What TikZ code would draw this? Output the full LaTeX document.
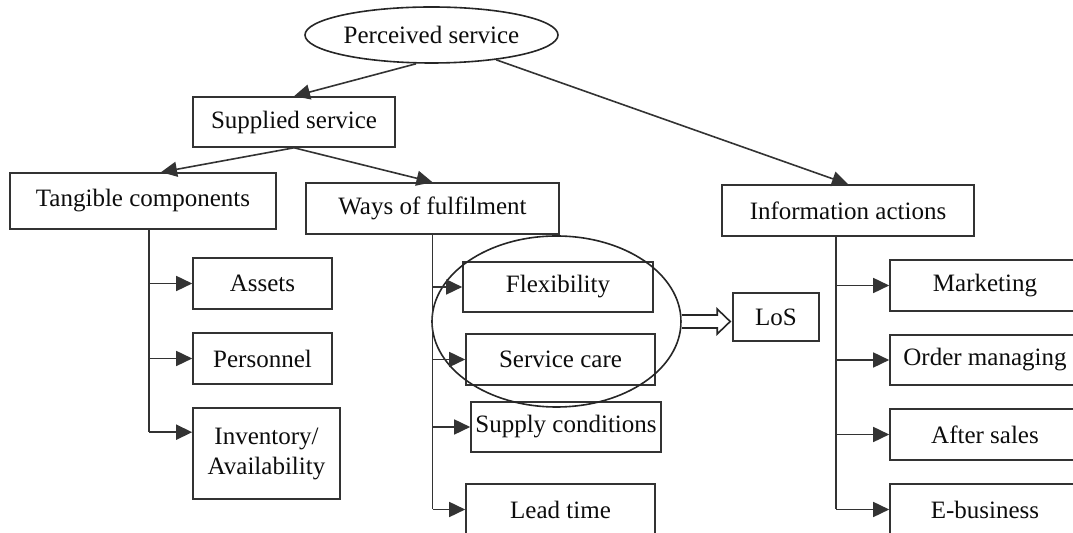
\documentclass[tikz,border=0pt]{standalone}
\usepackage{fontspec}
\setmainfont{Liberation Serif}
\usetikzlibrary{shapes.geometric,arrows.meta,calc}
\begin{document}
\begin{tikzpicture}[x=0.5pt,y=-0.5pt,
  font=\fontsize{12.5}{15}\selectfont,
  line width=0.8pt,
  every node/.style={text=black!95},
  box/.style={draw=black!80,rectangle,inner sep=0pt,align=center},
  oval/.style={draw=black!85,ellipse,inner sep=0pt},
  conn/.style={draw=black!80},
  arr/.style={draw=black!80,-{Triangle[length=8pt,width=7.5pt]}}
]
\useasboundingbox (0,0) rectangle (1073,533);
\clip (0,0) rectangle (1073,533);
\fill[white] (0,0) rectangle (1073,533);

% top level
\node[oval,minimum width=126.5pt,minimum height=28pt] (ps) at (431.5,35) {Perceived service};
\node[box,minimum width=101pt,minimum height=25pt] (ss) at (294,122) {Supplied service};
\node[box,minimum width=133pt,minimum height=28pt] (tc) at (143,201) {Tangible components};
\node[box,minimum width=126.5pt,minimum height=25.5pt] (wf) at (432.5,208.5) {Ways of fulfilment};
\node[box,minimum width=126pt,minimum height=25.5pt] (ia) at (848,210.5) {Information actions};

% tangible children
\node[box,minimum width=69.5pt,minimum height=25.5pt] (as) at (262.5,283.5) {Assets};
\node[box,minimum width=69.5pt,minimum height=25.5pt] (pe) at (262.5,358.5) {Personnel};
\node[box,minimum width=73.5pt,minimum height=45.5pt] (inv) at (266.5,453.5) {Inventory/\\Availability};

% fulfilment children
\node[box,minimum width=95pt,minimum height=25pt] (fl) at (558,287) {Flexibility};
\node[box,minimum width=94.5pt,minimum height=25.5pt] (sc) at (560.5,359.5) {Service care};
\node[box,minimum width=95pt,minimum height=25pt] (su) at (566,427) {Supply conditions};
\node[box,minimum width=94.5pt,minimum height=25.5pt] (lt) at (560.5,509.5) {Lead time};

% information children
\node[box,minimum width=95pt,minimum height=25.5pt] (mk) at (985,285.5) {Marketing};
\node[box,minimum width=95pt,minimum height=25pt] (om) at (985,360) {Order managing};
\node[box,minimum width=95pt,minimum height=25.5pt] (af) at (985,434.5) {After sales};
\node[box,minimum width=95pt,minimum height=25.5pt] (eb) at (985,509.5) {E-business};

% grouping ellipse and LoS
\node[oval,minimum width=124.5pt,minimum height=85.5pt] (grp) at (556.5,321.5) {};
\node[box,minimum width=43pt,minimum height=24pt] (los) at (776,317) {LoS};

% top connectors
\draw[arr] ([xshift=-7.75pt]ps.south) -- (ss.north);
\draw[arr] (ps.-21) -- (ia.north);
\draw[arr] (ss.south) -- ([xshift=9pt]tc.north);
\draw[arr] (ss.south) -- (wf.north);

% tangible trunk
\coordinate (tcT) at ([xshift=3pt]tc.south);
\draw[conn] (tcT) -- (tcT |- inv.164);
\draw[arr] (tcT |- as.west) -- (as.west);
\draw[arr] (tcT |- pe.west) -- (pe.west);
\draw[arr] (tcT |- inv.164) -- (inv.164);

% fulfilment trunk
\coordinate (wfT) at (wf.south);
\draw[conn] (wfT) -- (wfT |- lt.west);
\draw[arr] (wfT |- fl.west) -- (fl.west);
\draw[arr] (wfT |- sc.west) -- (sc.west);
\draw[arr] (wfT |- su.west) -- (su.west);
\draw[arr] (wfT |- lt.west) -- (lt.west);

% information trunk
\coordinate (iaT) at ([xshift=-6pt]ia.south);
\draw[conn] (iaT) -- (iaT |- eb.west);
\draw[arr] (iaT |- mk.west) -- (mk.west);
\draw[arr] (iaT |- om.west) -- (om.west);
\draw[arr] (iaT |- af.west) -- (af.west);
\draw[arr] (iaT |- eb.west) -- (eb.west);

% hollow arrow to LoS
\coordinate (ha) at (grp.east);
\coordinate (hb) at ($(los.west |- ha)+(-2,0)$);
\draw[draw=black!85,line width=0.8pt,fill=white,line join=miter]
  ($(ha)+(0,-6.5)$) -- ($(hb)+(-13,-6.5)$) -- ($(hb)+(-13,-12.5)$) -- (hb)
  -- ($(hb)+(-13,12.5)$) -- ($(hb)+(-13,6.5)$) -- ($(ha)+(0,6.5)$);
\end{tikzpicture}
\end{document}
